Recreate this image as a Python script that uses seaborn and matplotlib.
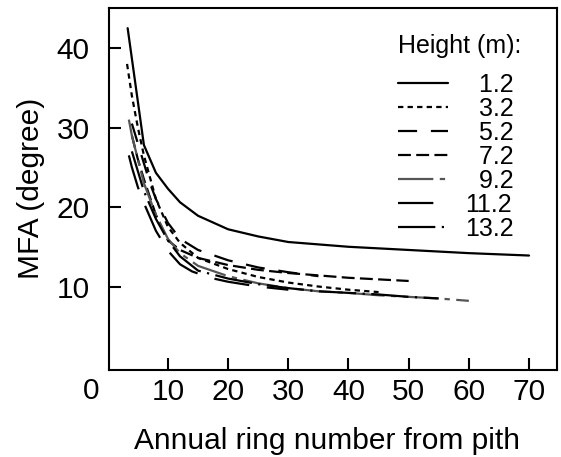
import matplotlib
matplotlib.use("Agg")
import matplotlib.pyplot as plt
import matplotlib.transforms as mtransforms
import seaborn as sns
import pandas as pd

# ---- data ----
heights = ["1.2", "3.2", "5.2", "7.2", "9.2", "11.2", "13.2"]

ring_1_2 = [3.3, 6, 8, 10, 12, 15, 20, 25, 30, 40, 50, 60, 70]
mfa_1_2 = [42.5, 27.8, 24.3, 22.3, 20.6, 18.9, 17.2, 16.3, 15.6, 15.0, 14.6, 14.2, 13.9]

ring_3_2 = [3.2, 4, 5, 6, 8, 10, 12, 15, 20, 25, 30, 35, 40, 45]
mfa_3_2 = [38.0, 34.0, 30.0, 26.5, 21.0, 17.5, 15.5, 13.6, 12.2, 11.2, 10.5, 10.0, 9.6, 9.3]

ring_5_2 = [4, 5, 6, 7, 8, 10, 12, 15, 20, 25, 30, 35]
mfa_5_2 = [30.5, 28.0, 25.5, 23.0, 21.0, 18.0, 16.0, 14.6, 13.3, 12.4, 11.8, 11.3]

ring_7_2 = [4, 5, 6, 8, 10, 12, 15, 20, 25, 30, 35, 40, 45, 50]
mfa_7_2 = [29.0, 26.0, 23.5, 19.0, 15.8, 14.6, 13.6, 12.7, 12.1, 11.7, 11.4, 11.1, 10.9, 10.7]

ring_9_2 = [3.5, 4, 5, 6, 8, 10, 12, 15, 20, 25, 30, 35, 40, 45, 50, 55, 60]
mfa_9_2 = [31.0, 29.0, 26.0, 23.0, 19.0, 16.0, 14.2, 12.6, 11.3, 10.4, 9.8, 9.4, 9.2, 8.9, 8.7, 8.5, 8.2]

ring_11_2 = [3.5, 4, 5, 6, 8, 10, 12, 14, 17, 20, 25, 30]
mfa_11_2 = [26.5, 25.0, 22.5, 20.5, 17.0, 14.5, 12.8, 11.9, 11.1, 10.6, 10.0, 9.6]

ring_13_2 = [4, 5, 6, 8, 10, 12, 15, 20, 25, 30, 35, 40, 45, 50, 55]
mfa_13_2 = [27.0, 24.5, 22.0, 18.5, 15.8, 13.8, 12.0, 11.0, 10.3, 9.8, 9.4, 9.2, 9.0, 8.7, 8.5]

x_ticks = [10, 20, 30, 40, 50, 60, 70]
y_ticks = [10, 20, 30, 40]

series = [
    ("1.2", ring_1_2, mfa_1_2),
    ("3.2", ring_3_2, mfa_3_2),
    ("5.2", ring_5_2, mfa_5_2),
    ("7.2", ring_7_2, mfa_7_2),
    ("9.2", ring_9_2, mfa_9_2),
    ("11.2", ring_11_2, mfa_11_2),
    ("13.2", ring_13_2, mfa_13_2),
]
df = pd.concat(
    [pd.DataFrame({"ring": r, "mfa": m, "height": h}) for h, r, m in series],
    ignore_index=True,
)

# ---- style ----
sns.set_theme(style="ticks")
plt.rcParams["font.family"] = ["Liberation Sans", "DejaVu Sans"]
plt.rcParams["text.color"] = "black"
plt.rcParams["axes.labelcolor"] = "black"
plt.rcParams["xtick.color"] = "black"
plt.rcParams["ytick.color"] = "black"

palette = {"1.2": "black", "3.2": "black", "5.2": "black", "7.2": "black",
           "9.2": "#555555", "11.2": "black", "13.2": "black"}
dashes = {
    "1.2": "",
    "3.2": (2.4, 1.9),
    "5.2": (8.6, 6.2),
    "7.2": (5.8, 2.4),
    "9.2": (15.9, 2.9, 2.4, 2.9),
    "11.2": (15.9, 8.0),
    "13.2": (16.8, 2.9, 1.0, 2.9),
}

W, H = 561, 457
fig = plt.figure(figsize=(W / 100, H / 100), dpi=100)
ax = fig.add_axes([109 / W, 1 - 370 / H, (557 - 109) / W, (370 - 7.5) / H])

sns.lineplot(data=df, x="ring", y="mfa", hue="height", style="height",
             hue_order=heights, style_order=heights, palette=palette,
             dashes=dashes, linewidth=1.6, sort=False, estimator=None,
             ax=ax, legend="full")

ax.set_xlim(0.2, 74.65)
ax.set_ylim(-0.5, 45.1)
ax.set_xticks(x_ticks)
ax.set_yticks(y_ticks)
ax.tick_params(direction="in", length=8.5, width=1.5, labelsize=21.5,
               colors="black", labelcolor="black")
ax.tick_params(axis="x", pad=6)
ax.tick_params(axis="y", pad=14)
for s in ax.spines.values():
    s.set_linewidth(1.5)
    s.set_color("black")

ax.set_xlabel("Annual ring number from pith", fontsize=21.5, color="black")
ax.set_ylabel("MFA (degree)", fontsize=21.5, color="black")
ax.xaxis.set_label_coords(0.487, -0.158)
ax.yaxis.set_label_coords(-0.143, 0.5)

# origin label "0"
trans = mtransforms.blended_transform_factory(ax.transData, ax.transAxes)
ax.text(-2.8, -0.058, "0", transform=trans, ha="center", va="center",
        fontsize=21.5, color="black")

handles, labels = ax.get_legend_handles_labels()
lab = [("  " + l) if len(l) == 3 else l for l in labels]
leg = ax.legend(handles, lab, title="Height (m):", loc="upper left",
                bbox_to_anchor=(0.606, 0.975), frameon=False, fontsize=18,
                title_fontsize=18, borderpad=0.7, borderaxespad=0,
                handlelength=2.0, handletextpad=0.7, labelspacing=0.0,
                alignment="left")
leg._legend_box.sep = 10.8
leg.get_title().set_color("black")
for t in leg.get_texts():
    t.set_color("black")

fig.savefig("out.png", dpi=100)
